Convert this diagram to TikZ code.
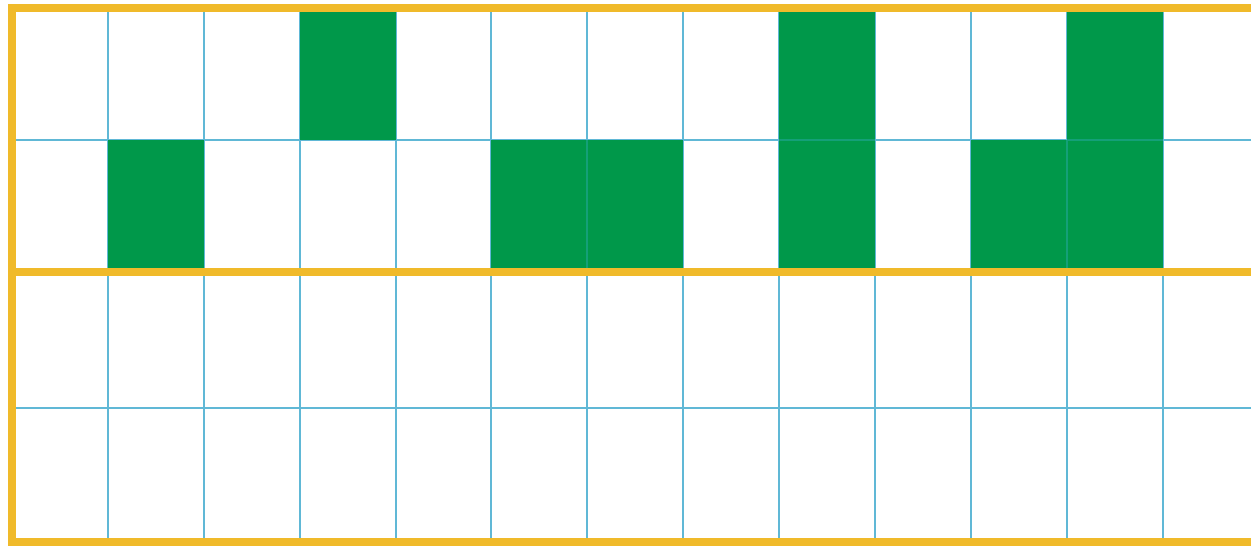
\documentclass[tikz,border=0pt]{standalone}
\definecolor{frameyellow}{RGB}{240,186,42}
\definecolor{gridblue}{RGB}{96,184,214}
\definecolor{cellgreen}{RGB}{0,152,74}
\definecolor{gridteal}{RGB}{20,160,120}
\begin{document}
\begin{tikzpicture}[x=0.02cm, y=-0.02cm]
        \useasboundingbox (0,0) rectangle (1251,548);
        \fill[white] (0,0) rectangle (1251,548);

        \draw[gridblue, line width=1pt] (12,140)--(1251,140);
        \draw[gridblue, line width=1pt] (12,408)--(1251,408);
        \draw[gridblue, line width=1pt] (108,8)--(108,542);
        \draw[gridblue, line width=1pt] (204,8)--(204,542);
        \draw[gridblue, line width=1pt] (300,8)--(300,542);
        \draw[gridblue, line width=1pt] (396,8)--(396,542);
        \draw[gridblue, line width=1pt] (491,8)--(491,542);
        \draw[gridblue, line width=1pt] (587,8)--(587,542);
        \draw[gridblue, line width=1pt] (683,8)--(683,542);
        \draw[gridblue, line width=1pt] (779,8)--(779,542);
        \draw[gridblue, line width=1pt] (875,8)--(875,542);
        \draw[gridblue, line width=1pt] (971,8)--(971,542);
        \draw[gridblue, line width=1pt] (1067,8)--(1067,542);
        \draw[gridblue, line width=1pt] (1163,8)--(1163,542);

        % green cells, top row
        \fill[cellgreen] (300,8) rectangle (396,140);
        \fill[cellgreen] (779,8) rectangle (875,140);
        \fill[cellgreen] (1067,8) rectangle (1163,140);
        % green cells, second row
        \fill[cellgreen] (108,140) rectangle (204,272);
        \fill[cellgreen] (491,140) rectangle (683,272);
        \fill[cellgreen] (779,140) rectangle (875,272);
        \fill[cellgreen] (971,140) rectangle (1163,272);
        % faint lines through the green
        \draw[gridteal, line width=1pt] (587,140)--(587,272);
        \draw[gridteal, line width=1pt] (1067,140)--(1067,272);
        \draw[gridteal, line width=1pt] (779,140)--(875,140);
        \draw[gridteal, line width=1pt] (1067,140)--(1163,140);

        % frame
        \draw[frameyellow, line width=4pt, line join=miter] (1251,8)--(12,8)--(12,542)--(1251,542);
        \draw[frameyellow, line width=4pt] (12,272)--(1251,272);
\end{tikzpicture}
\end{document}
